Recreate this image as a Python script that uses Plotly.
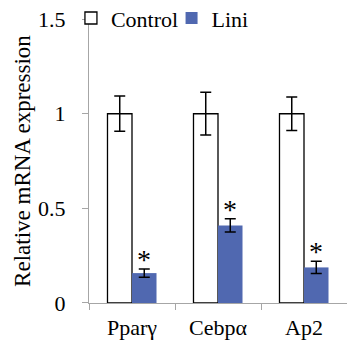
import plotly.graph_objects as go

genes = ["Pparγ", "Cebpα", "Ap2"]
control_vals = [1.0, 1.0, 1.0]
control_err = [0.093, 0.113, 0.088]
lini_vals = [0.158, 0.41, 0.188]
lini_err = [0.022, 0.035, 0.032]
y_ticks = [0, 0.5, 1, 1.5]
y_ticktext = ["0", "0.5", "1", "1.5"]

FONT = "Liberation Serif, Times New Roman, serif"
BLUE = "#5068b0"
FS = 22

fig = go.Figure()
fig.add_trace(go.Bar(
    x=genes, y=control_vals, name="Control", legend="legend",
    marker=dict(color="white", line=dict(color="black", width=1.3)),
    error_y=dict(type="data", array=control_err, color="black", thickness=1.5, width=5.5),
))
fig.add_trace(go.Bar(
    x=genes, y=lini_vals, name="Lini", legend="legend2",
    marker=dict(color=BLUE, line=dict(color=BLUE, width=0)),
    error_y=dict(type="data", array=lini_err, color="black", thickness=1.5, width=5.5),
))

for g, v, e in zip(genes, lini_vals, lini_err):
    fig.add_annotation(x=g, y=v + e, text="*", showarrow=False, xshift=12,
                       yanchor="bottom", yshift=-8,
                       font=dict(family=FONT, size=28, color="black"))

leg_common = dict(orientation="h", xanchor="left", yanchor="middle", y=0.94,
                  font=dict(family=FONT, size=FS, color="black"),
                  bgcolor="rgba(0,0,0,0)", itemwidth=30, tracegroupgap=0)

fig.update_layout(
    width=347, height=347,
    margin=dict(l=89, r=0, t=0, b=44, autoexpand=False),
    paper_bgcolor="white", plot_bgcolor="white",
    barmode="group", bargap=0.43, bargroupgap=0,
    font=dict(family=FONT, size=FS, color="black"),
    showlegend=True,
    legend=dict(x=-0.07, **leg_common),
    legend2=dict(x=0.32, **leg_common),
)
fig.update_xaxes(
    type="category", range=[-0.5, 2.5], automargin=False,
    showline=True, linecolor="#a6a6a6", linewidth=1.3,
    ticks="outside", tickson="boundaries", ticklen=6, tickcolor="#a6a6a6",
    showgrid=False, tickfont=dict(family=FONT, size=FS), zeroline=False,
    ticklabelstandoff=4,
)
fig.update_yaxes(
    range=[0, 1.5], tickvals=y_ticks, ticktext=y_ticktext, automargin=False,
    domain=[0, 0.937],
    showline=True, linecolor="#a6a6a6", linewidth=1.3,
    ticks="outside", ticklen=6, tickcolor="#a6a6a6",
    showgrid=False, zeroline=False, ticklabelstandoff=12,
    tickfont=dict(family=FONT, size=FS),
    title=dict(text="Relative mRNA expression", font=dict(family=FONT, size=23), standoff=0),
)

fig.write_html("out.html", config={"displayModeBar": False},
               post_script="document.body.style.margin='0px';")
